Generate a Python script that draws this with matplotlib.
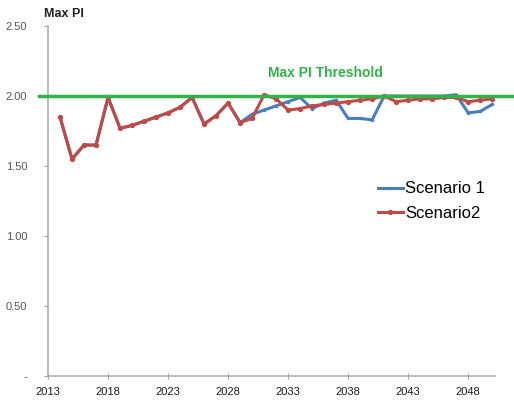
import numpy as np
import matplotlib
matplotlib.use('Agg')
import matplotlib.pyplot as plt

plt.rcParams['font.family'] = ['Liberation Sans', 'DejaVu Sans']

years = list(range(2014, 2051))

# Scenario2 (red, with markers)
scenario2 = [1.85, 1.55, 1.65, 1.65, 1.99, 1.77, 1.79, 1.82, 1.85, 1.88,
             1.92, 1.99, 1.80, 1.86, 1.95, 1.81, 1.84, 2.01, 1.98, 1.90,
             1.91, 1.93, 1.94, 1.95, 1.96, 1.97, 1.98, 2.00, 1.96, 1.97,
             1.98, 1.98, 1.99, 1.99, 1.96, 1.97, 1.98]

# Scenario 1 (blue), same as Scenario2 up to 2029
scenario1 = [1.85, 1.55, 1.65, 1.65, 1.99, 1.77, 1.79, 1.82, 1.85, 1.88,
             1.92, 1.99, 1.80, 1.86, 1.95, 1.81, 1.87, 1.90, 1.93, 1.96,
             1.99, 1.91, 1.95, 1.97, 1.84, 1.84, 1.83, 2.00, 2.00, 2.00,
             2.00, 2.00, 2.00, 2.01, 1.88, 1.89, 1.94]

threshold = 2.00
x_ticks = [2013, 2018, 2023, 2028, 2033, 2038, 2043, 2048]
y_ticks = [0, 0.5, 1.0, 1.5, 2.0, 2.5]
y_tick_labels = ['-', '0.50', '1.00', '1.50', '2.00', '2.50']

fig = plt.figure(figsize=(5.14, 4.01), dpi=100)
ax = fig.add_axes([0.0934, 0.0623, 0.870, 0.8727])

ax.plot(years, scenario1, color='#4a7ebb', lw=2.2, marker='o', markersize=1.5,
        label='Scenario 1', zorder=3)
ax.plot(years, scenario2, color='#be4b48', lw=2.2, marker='o', markersize=2.8,
        label='Scenario2', zorder=4)

# threshold line spans the whole figure width
ax.axhline(threshold, xmin=-0.02, xmax=1.05, color='#33b24a', lw=2.5,
           clip_on=False, zorder=5)
ax.text(2036.1, 2.165, 'Max PI Threshold', color='#33b24a', fontsize=10,
        fontweight='bold', ha='center', va='center')

ax.set_xlim(2013, 2050.25)
ax.set_ylim(0, 2.5)
ax.set_xticks(x_ticks)
ax.set_yticks(y_ticks)
ax.set_yticklabels(y_tick_labels)
ax.tick_params(axis='both', labelsize=8, colors='#a0a0a0', length=4, width=0.8)
ax.tick_params(axis='x', direction='inout', pad=6, labelcolor='#1a1a1a')
ax.tick_params(axis='y', direction='out', length=3, pad=12, labelcolor='#555555')

for s in ['top', 'right']:
    ax.spines[s].set_visible(False)
for s in ['left', 'bottom']:
    ax.spines[s].set_color('#b0b0b0')
    ax.spines[s].set_linewidth(1.2)

fig.text(44 / 514, 1 - 14 / 401, 'Max PI', fontsize=9, fontweight='bold',
         ha='left', va='center', color='#222222')

ax.legend(loc='upper left', bbox_to_anchor=(0.722, 0.575), frameon=False,
          fontsize=12, handlelength=1.5, handletextpad=0.15, labelspacing=0.55,
          borderaxespad=0)

fig.savefig('out.png', dpi=100)
